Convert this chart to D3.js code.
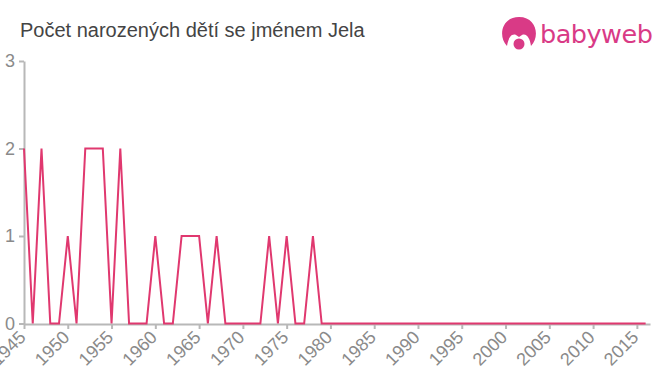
<!DOCTYPE html>
<html>
<head>
<meta charset="utf-8">
<script src="https://cdn.jsdelivr.net/npm/d3@7"></script>
<style>
  html, body { margin: 0; padding: 0; background: #fff; }
  svg { display: block; font-family: "Liberation Sans", Arial, sans-serif; }
  .axis text { fill: #8a8a8a; font-size: 18px; }
  .axis path, .axis line { stroke: #b8b8b8; stroke-width: 2px; }
</style>
</head>
<body>
<svg id="chart" width="660" height="375"></svg>
<script>
const years = d3.range(1945, 2017);
const counts = [
  2, 0, 2, 0, 0, 1, 0, 2, 2, 2,
  0, 2, 0, 0, 0, 1, 0, 0, 1, 1,
  1, 0, 1, 0, 0, 0, 0, 0, 1, 0,
  1, 0, 0, 1, 0, 0, 0, 0, 0, 0,
  0, 0, 0, 0, 0, 0, 0, 0, 0, 0,
  0, 0, 0, 0, 0, 0, 0, 0, 0, 0,
  0, 0, 0, 0, 0, 0, 0, 0, 0, 0,
  0, 0
];
const xTicks = d3.range(1945, 2016, 5);
const yTicks = [0, 1, 2, 3];
const title = 'Počet narozených dětí se jménem Jela';

const svg = d3.select('#chart');
const margin = { top: 61, right: 10, bottom: 52, left: 24 };

const xScale = d3.scaleLinear()
  .domain([1945, 2016.5])
  .range([margin.left, 650]);

const yScale = d3.scaleLinear()
  .domain([0, 3])
  .range([323.5, margin.top]);

svg.append('text')
  .attr('x', 20)
  .attr('y', 37)
  .attr('fill', '#444')
  .style('font-size', '20px')
  .text(title);

// y axis
svg.append('g')
  .attr('class', 'axis')
  .attr('transform', `translate(${margin.left}, 0)`)
  .call(d3.axisLeft(yScale).tickValues(yTicks).tickFormat(d3.format('d')).tickSize(5).tickSizeOuter(0))
  .call(g => g.selectAll('text').attr('x', -9).attr('dy', '0.33em'));

// x axis, sits just under the zero line
const xAxis = svg.append('g')
  .attr('class', 'axis')
  .attr('transform', `translate(0, ${yScale(0) + 0.5})`)
  .call(d3.axisBottom(xScale).tickValues(xTicks).tickFormat(d3.format('d')).tickSize(5).tickSizeOuter(0));

xAxis.selectAll('text')
  .attr('text-anchor', 'end')
  .attr('transform', 'translate(-9, -4) rotate(-45) translate(-5, 4)')
  .attr('dy', '0.5em')
  .attr('y', 8);

const line = d3.line()
  .x((d, i) => xScale(years[i]))
  .y(d => yScale(d));

svg.append('path')
  .datum(counts)
  .attr('fill', 'none')
  .attr('stroke', '#e0386f')
  .attr('stroke-width', 2)
  .attr('stroke-linejoin', 'miter')
  .attr('d', line);

// logo
const logo = svg.append('g').attr('fill', '#d93a86');
logo.append('path')
  .attr('d', 'M507 46 C498 37 501 17 519 17 C537 17 540 37 531 46 C530 39 527 33 522 35 L519 37 L516 35 C511 33 508 39 507 46 Z');
logo.append('circle').attr('cx', 519).attr('cy', 44).attr('r', 5.5);
logo.append('text')
  .attr('x', 540)
  .attr('y', 43)
  .style('font-family', '"DejaVu Sans", sans-serif')
  .style('font-size', '25.5px')
  .style('letter-spacing', '-0.5px')
  .text('babyweb');
</script>
</body>
</html>
